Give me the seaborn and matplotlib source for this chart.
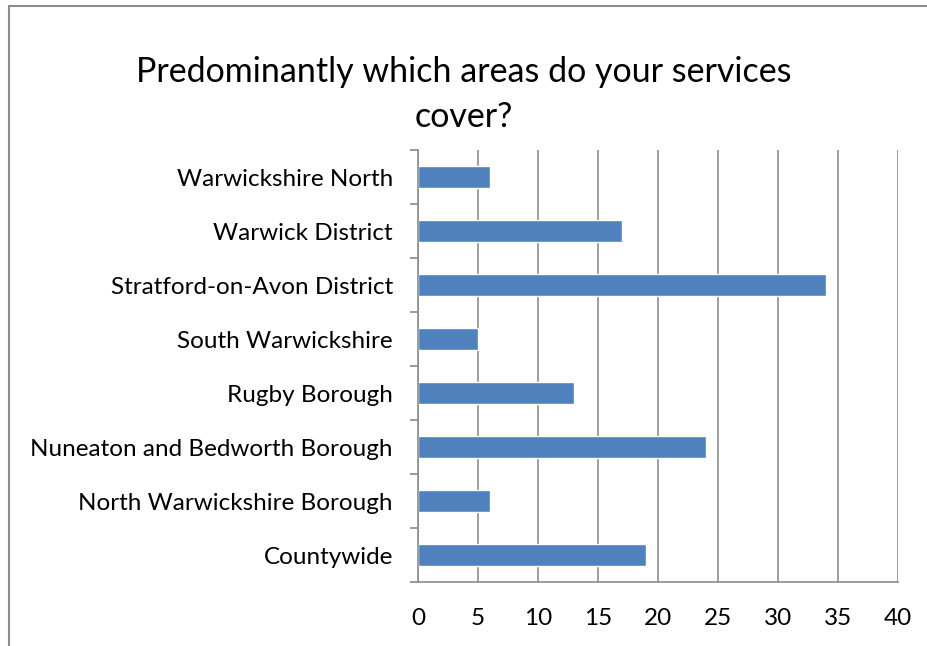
import matplotlib
matplotlib.use("Agg")
import matplotlib.pyplot as plt
import seaborn as sns
import pandas as pd
from matplotlib.lines import Line2D
from matplotlib.ticker import FixedLocator

categories = ["Warwickshire North", "Warwick District", "Stratford-on-Avon District",
              "South Warwickshire", "Rugby Borough", "Nuneaton and Bedworth Borough",
              "North Warwickshire Borough", "Countywide"]
values = [6, 17, 34, 5, 13, 24, 6, 19]
x_ticks = [0, 5, 10, 15, 20, 25, 30, 35, 40]

sns.set_theme(style="white")
plt.rcParams['font.family'] = ['Lato', 'DejaVu Sans']
plt.rcParams['text.color'] = 'black'

df = pd.DataFrame({"area": categories, "count": values})

fig = plt.figure(figsize=(9.28, 6.46), dpi=100)
ax = fig.add_axes([418/928, 1-582/646, 480/928, 432/646])

sns.barplot(data=df, y="area", x="count", orient="h", color="#4F81BD",
            saturation=1, width=0.4, ax=ax, order=categories)

grid_c = "#8C8C8C"
ax.set_xlim(0, 40)
ax.set_ylim(len(categories) - 0.5, -0.5)
ax.set_xticks(x_ticks)
ax.set_xticklabels([str(t) for t in x_ticks], fontsize=17.5)
ax.set_yticklabels(categories, fontsize=17.5)
ax.xaxis.grid(True, color=grid_c, linewidth=1.2)
ax.set_axisbelow(True)
ax.set_xlabel("")
ax.set_ylabel("")

for s in ["top", "right"]:
    ax.spines[s].set_visible(False)
for s in ["left", "bottom"]:
    ax.spines[s].set_color(grid_c)
    ax.spines[s].set_linewidth(1.2)

ax.tick_params(axis="x", which="major", length=5.5, width=1.2, color=grid_c,
               direction="out", pad=13, labelcolor="black")
ax.tick_params(axis="y", which="major", length=0, pad=18, labelcolor="black")
ax.yaxis.set_minor_locator(FixedLocator([i - 0.5 for i in range(len(categories) + 1)]))
ax.tick_params(axis="y", which="minor", length=6, width=1.2, color=grid_c, direction="out", left=True)

fig.text(0.5, 1 - 72/646, "Predominantly which areas do your services", ha="center",
         va="center", fontsize=24.5, color="black")
fig.text(0.5, 1 - 117/646, "cover?", ha="center", va="center", fontsize=24.5, color="black")

fig.add_artist(Line2D([9/928, 9/928], [0, 1 - 6/646], transform=fig.transFigure,
                      color="#8C8C8C", linewidth=1.5))
fig.add_artist(Line2D([9/928, 1], [1 - 6/646, 1 - 6/646], transform=fig.transFigure,
                      color="#8C8C8C", linewidth=1.5))

fig.savefig("out.png", dpi=100)
